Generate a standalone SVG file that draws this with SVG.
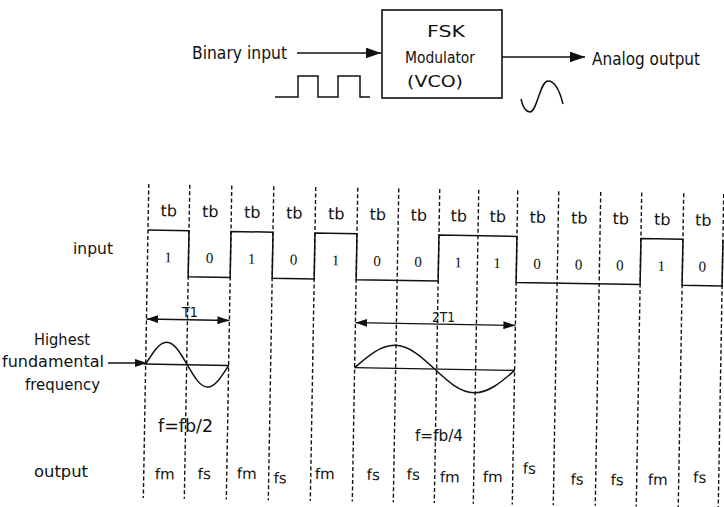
<svg xmlns="http://www.w3.org/2000/svg" width="724" height="507" viewBox="0 0 724 507">
<defs>
<marker id="ah" viewBox="0 0 14 10" refX="14" refY="5" markerWidth="15" markerHeight="11" markerUnits="userSpaceOnUse" orient="auto-start-reverse"><path d="M0,0 L14,5 L0,10 Z" fill="#111"/></marker>
<marker id="ahs" viewBox="0 0 12 8" refX="12" refY="4" markerWidth="12" markerHeight="8" markerUnits="userSpaceOnUse" orient="auto-start-reverse"><path d="M0,0 L12,4 L0,8 Z" fill="#111"/></marker>
<style>
.t{font-family:"DejaVu Sans","Liberation Sans",sans-serif;fill:#111}
.w{fill:none;stroke:#111;stroke-width:1.5}
.c{fill:none;stroke:#111;stroke-width:1.4}
.d{fill:none;stroke:#111;stroke-width:1.4;stroke-dasharray:4 2.5}
.b{font-family:"Liberation Serif",serif;font-size:15px;text-anchor:middle;fill:#111}
.tb{font-size:16px;text-anchor:middle}
.o{font-size:15px;text-anchor:middle}
</style>
</defs>
<rect width="724" height="507" fill="#fff"/>

<!-- Block diagram -->
<g id="binary-input">
<text class="t" x="192" y="59" font-size="17" textLength="95" lengthAdjust="spacingAndGlyphs">Binary input</text>
<path class="w" d="M275,97 H298 V76 H318 V97 H338 V76 H360 V97 H370"/>
</g>
<g id="fsk-modulator">
<rect x="382" y="10" width="120" height="88" fill="none" stroke="#111" stroke-width="1.6"/>
<text class="t" x="446" y="37" font-size="16" text-anchor="middle" textLength="38" lengthAdjust="spacingAndGlyphs">FSK</text>
<text class="t" x="440" y="63" font-size="16" text-anchor="middle" textLength="70" lengthAdjust="spacingAndGlyphs">Modulator</text>
<text class="t" x="435" y="87" font-size="15" text-anchor="middle" textLength="56" lengthAdjust="spacingAndGlyphs">(VCO)</text>
</g>
<g id="analog-output">
<text class="t" x="592" y="65" font-size="17" textLength="108" lengthAdjust="spacingAndGlyphs">Analog output</text>
<path class="w" d="M521,99 C523,108 526,112 530,112 C537,112 540,81 548,81 C555,81 560,92 563,104"/>
</g>

<g id="connectors">
<line class="c" x1="297" y1="53" x2="381" y2="53" marker-end="url(#ah)"/>
<line class="c" x1="502" y1="57" x2="585" y2="57" marker-end="url(#ah)"/>
<line class="c" x1="108" y1="363" x2="147" y2="363" marker-end="url(#ahs)"/>
</g>

<!-- Left labels -->
<g id="labels">
<text class="t" x="73" y="254" font-size="16" textLength="40" lengthAdjust="spacingAndGlyphs">input</text>
<text class="t" x="34" y="345" font-size="15" textLength="56" lengthAdjust="spacingAndGlyphs">Highest</text>
<text class="t" x="2" y="367" font-size="15" textLength="102" lengthAdjust="spacingAndGlyphs">fundamental</text>
<text class="t" x="25" y="390" font-size="15" textLength="75" lengthAdjust="spacingAndGlyphs">frequency</text>
<text class="t" x="34" y="477" font-size="16" textLength="54" lengthAdjust="spacingAndGlyphs">output</text>
</g>

<!-- Timing diagram (slightly rotated like the scan) -->
<g id="timing" transform="rotate(1 148 230)">
<g id="cell-lines">
<path class="d" d="M148,184 V498 M189,184 V498 M231,184 V498 M273,184 V498 M315,184 V498 M357,184 V498 M398,184 V498 M439,184 V498 M478,184 V498 M517,184 V498 M558,184 V498 M600,184 V498 M641,184 V498 M683,184 V498 M723,184 V498"/>
</g>
<g id="tb-labels" class="t tb">
<text x="168.5" y="216">tb</text><text x="210" y="216">tb</text><text x="252" y="216">tb</text><text x="294" y="216">tb</text><text x="336" y="216">tb</text><text x="377.5" y="216">tb</text><text x="418.5" y="216">tb</text><text x="458.5" y="216">tb</text><text x="497.5" y="216">tb</text><text x="537.5" y="216">tb</text><text x="579" y="216">tb</text><text x="620.5" y="216">tb</text><text x="662" y="216">tb</text><text x="703" y="216">tb</text>
</g>
<g id="input-wave">
<path class="w" d="M148,230 H189 V276 H231 V230 H273 V276 H315 V230 H357 V276 H439 V230 H517 V276 H641 V230 H683 V276 H723 V230"/>
<g class="b">
<text x="168.5" y="262">1</text><text x="210" y="262">0</text><text x="252" y="262">1</text><text x="294" y="262">0</text><text x="336" y="262">1</text><text x="377.5" y="262">0</text><text x="418.5" y="262">0</text><text x="458.5" y="262">1</text><text x="497.5" y="262">1</text><text x="537.5" y="262">0</text><text x="579" y="262">0</text><text x="620.5" y="262">0</text><text x="662" y="262">1</text><text x="703" y="262">0</text>
</g>
</g>
<g id="periods">
<line class="c" x1="148" y1="319" x2="231" y2="319" marker-start="url(#ahs)" marker-end="url(#ahs)"/>
<line class="c" x1="357" y1="319" x2="517" y2="319" marker-start="url(#ahs)" marker-end="url(#ahs)"/>
</g>
<g id="sines">
<path class="c" d="M146,364 H231 M357,364 H517"/>
<path class="w" d="M148,364 C154.77,352.73 161.24,342 168.75,342 C176.26,342 182.73,352.73 189.5,364 C196.27,375.27 202.74,386 210.25,386 C217.76,386 224.23,375.27 231,364"/>
<path class="w" d="M357,364 C370.05,352.22 382.52,341 397,341 C411.48,341 423.95,352.22 437,364 C450.05,375.78 462.52,387 477,387 C491.48,387 503.95,375.78 517,364"/>
</g>
<g id="output-labels" class="t o">
<text x="169" y="479">fm</text><text x="208.5" y="478">fs</text><text x="251" y="477">fm</text><text x="284.5" y="481">fs</text><text x="329" y="476">fm</text><text x="377.5" y="476">fs</text><text x="417.5" y="475">fs</text><text x="454" y="477">fm</text><text x="497" y="476">fm</text><text x="533.5" y="467">fs</text><text x="581.5" y="477">fs</text><text x="621.5" y="477">fs</text><text x="662" y="476">fm</text><text x="704" y="473">fs</text>
</g>
</g>

<!-- Period / frequency texts (placed at scan positions) -->
<g id="period-labels">
<text class="t" x="182" y="317" font-size="14" textLength="16" lengthAdjust="spacingAndGlyphs">T1</text>
<text class="t" x="432" y="322" font-size="14" textLength="23" lengthAdjust="spacingAndGlyphs">2T1</text>
<text class="t" x="158" y="432" font-size="17" textLength="55" lengthAdjust="spacingAndGlyphs">f=fb/2</text>
<text class="t" x="415" y="441" font-size="16" textLength="48" lengthAdjust="spacingAndGlyphs">f=fb/4</text>
</g>
</svg>
